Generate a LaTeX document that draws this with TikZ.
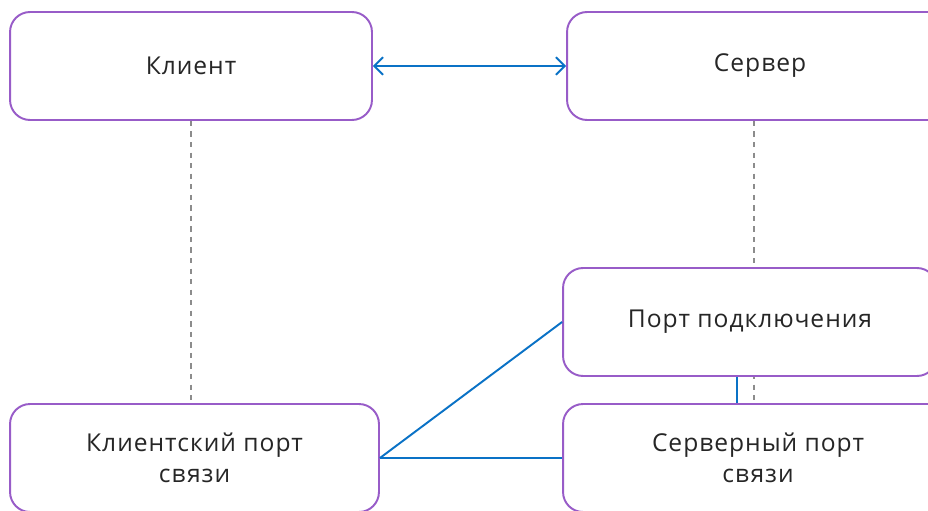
\documentclass[tikz,border=0pt]{standalone}
\usepackage{fontspec}
\setmainfont[LetterSpace=4]{Open Sans}
\usetikzlibrary{arrows.meta}
\definecolor{boxline}{RGB}{152,92,200}
\definecolor{linkblue}{RGB}{10,114,198}
\definecolor{guide}{RGB}{140,140,140}

\begin{document}
\begin{tikzpicture}[x=0.02cm, y=-0.02cm,
  box/.style={draw=boxline, line width=1.1pt, fill=white, rounded corners=0.4cm,
    minimum height=2.16cm, align=center,
    font=\fontsize{14}{18}\selectfont, text=black!85},
  link/.style={draw=linkblue, line width=1.1pt},
  guideline/.style={draw=guide, dashed, line width=0.6pt}]
\fill[white] (0,0) rectangle (928,510);
\clip (0,0) rectangle (928,510);
\node[box, minimum width=7.24cm] (klient) at (191,66){Клиент};
\node[box, minimum width=7.72cm] (server) at (760,66){Сервер};
\node[box, minimum width=7.38cm] (kport) at (194.5,458){Клиентский порт\\связи};
\node[box, minimum width=7.80cm] (sport) at (758,458){Серверный порт\\связи};
\draw[guideline] (klient.south) -- (klient.south |- kport.north);
\draw[guideline] ([xshift=-0.12cm]server.south) -- ([xshift=-0.12cm]server.south |- sport.north);
\node[box, minimum width=7.48cm] (port) at (750,322){Порт подключения};
\draw[link, {Straight Barb[length=5pt,width=10pt]}-{Straight Barb[length=5pt,width=10pt]}] (klient.east) -- (server.west);
\draw[link] (kport.east) -- (port.west);
\draw[link] (kport.east) -- (sport.west);
\draw[link] ([xshift=-0.26cm]port.south) -- ([xshift=-0.26cm]port.south |- sport.north);
\end{tikzpicture}
\end{document}
